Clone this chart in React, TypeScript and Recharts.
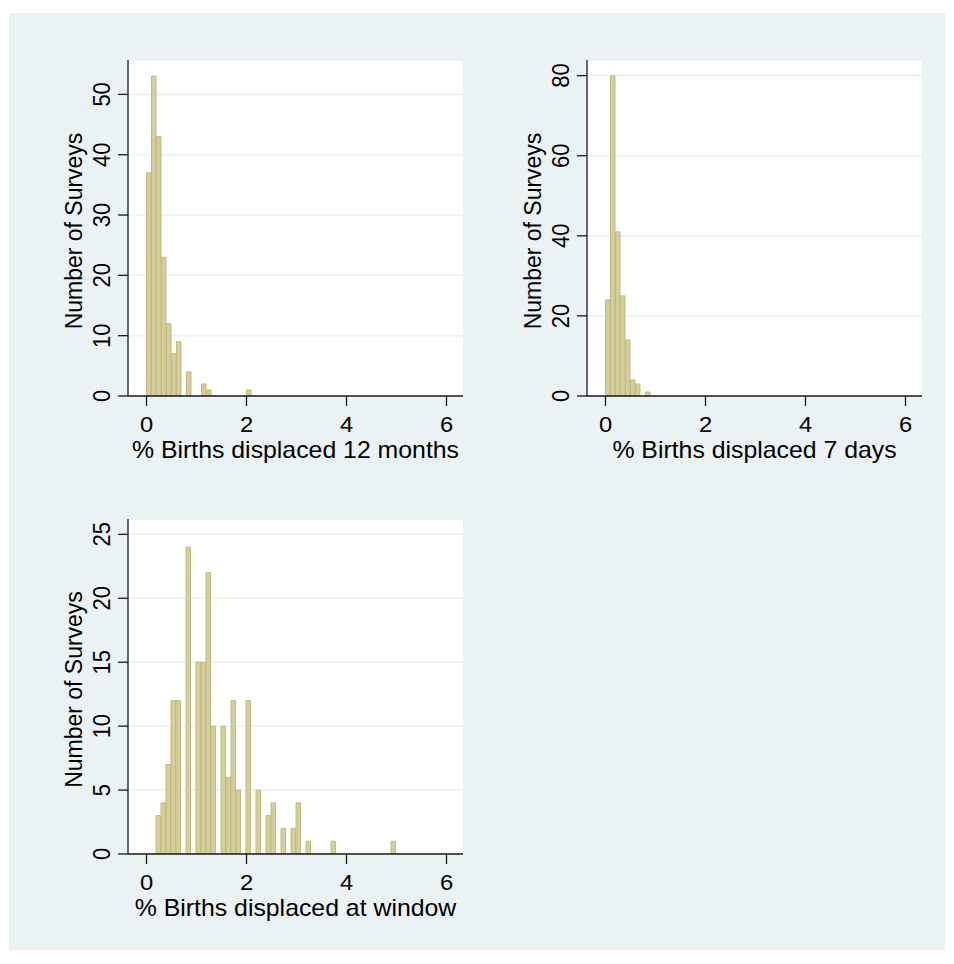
import React from 'react';
import { BarChart, Bar, XAxis, YAxis, CartesianGrid } from 'recharts';

// histogram bins are 0.1 percentage points wide
const BIN_WIDTH = 0.1;

// % births displaced 12 months
const months12Start = 0;
const months12Counts = [37, 53, 43, 23, 12, 7, 9, 0, 4, 0, 0, 2, 1, 0, 0, 0, 0, 0, 0, 0, 1];

// % births displaced 7 days
const days7Start = 0;
const days7Counts = [24, 80, 41, 25, 14, 4, 3, 0, 1];

// % births displaced at window
const windowStart = 0.19;
const windowCounts = [
  3, 4, 7, 12, 12, 0, 24, 0, 15, 15, 22, 10, 0, 10, 6, 12, 5, 0, 12, 0,
  5, 0, 3, 4, 0, 2, 0, 2, 4, 0, 1, 0, 0, 0, 0, 1, 0, 0, 0, 0,
  0, 0, 0, 0, 0, 0, 0, 1,
];

const xTicks = [0, 2, 4, 6];
const yTicks12m = [0, 10, 20, 30, 40, 50];
const yTicks7d = [0, 20, 40, 60, 80];
const yTicksWin = [0, 5, 10, 15, 20, 25];

const X_DOMAIN: [number, number] = [-0.37, 6.33];
const FONT = '"Liberation Sans", Arial, Helvetica, sans-serif';
const AXIS = { stroke: '#1a1a1a', strokeWidth: 1.3 };

const toBins = (start: number, counts: number[]) =>
  counts.map((n, i) => ({ x: start + BIN_WIDTH * (i + 0.5), n }));

function XTick({ x, y, payload }: any) {
  return (
    <text transform={`translate(${x},${y + 24}) scale(1.08,1)`} textAnchor="middle"
      fontSize={22} fontFamily={FONT} fill="#000">
      {payload.value}
    </text>
  );
}

function YTick({ x, y, payload }: any) {
  return (
    <text transform={`translate(${x - 6},${y}) scale(1.08,1) rotate(-90)`} textAnchor="middle"
      fontSize={22} fontFamily={FONT} fill="#000">
      {payload.value}
    </text>
  );
}

function XTitle({ viewBox, value }: any) {
  if (!viewBox) return null;
  const cx = viewBox.x + viewBox.width / 2;
  return (
    <text transform={`translate(${cx},${viewBox.y + 62}) scale(1.08,1)`} textAnchor="middle"
      fontSize={23} fontFamily={FONT} fill="#000">
      {value}
    </text>
  );
}

function YTitle({ viewBox, value }: any) {
  if (!viewBox) return null;
  const cy = viewBox.y + viewBox.height / 2 + 3;
  return (
    <text transform={`translate(${viewBox.x + 71.5},${cy}) scale(1.08,1) rotate(-90)`} textAnchor="middle"
      fontSize={23} fontFamily={FONT} fill="#000">
      {value}
    </text>
  );
}

interface PanelProps {
  left: number; top: number; plotH: number;
  data: { x: number; n: number }[];
  yTicks: number[]; yMax: number; title: string;
}

function Panel({ left, top, plotH, data, yTicks, yMax, title }: PanelProps) {
  return (
    <div style={{ position: 'absolute', left, top }}>
      <BarChart width={463} height={plotH + 80} data={data}
        margin={{ top: 10, right: 10, bottom: 0, left: 0 }}>
        <CartesianGrid vertical={false} stroke="#eaf2f3" strokeWidth={1.5} fill="#ffffff" fillOpacity={1} />
        <XAxis dataKey="x" type="number" domain={X_DOMAIN} ticks={xTicks} allowDataOverflow
          height={70} tickSize={10} tick={<XTick />} axisLine={AXIS} tickLine={AXIS}
          label={{ value: title, content: XTitle }} />
        <YAxis type="number" domain={[0, yMax]} ticks={yTicks} allowDataOverflow
          width={118} tickSize={10} tick={<YTick />} axisLine={AXIS} tickLine={AXIS}
          label={{ value: 'Number of Surveys', content: YTitle }} />
        <Bar dataKey="n" barSize={5} fill="#d3ce9c" stroke="#c2bb80" strokeWidth={1}
          isAnimationActive={false} />
      </BarChart>
    </div>
  );
}

export default function App() {
  return (
    <div style={{ position: 'absolute', left: 0, top: 0, width: 954, height: 964, background: '#ffffff' }}>
      <div style={{ position: 'absolute', left: 9, top: 13, width: 936, height: 937, background: '#eaf2f3' }} />
      <Panel left={10} top={50} plotH={336} data={toBins(months12Start, months12Counts)}
        yTicks={yTicks12m} yMax={55.7} title="% Births displaced 12 months" />
      <Panel left={469} top={50} plotH={336} data={toBins(days7Start, days7Counts)}
        yTicks={yTicks7d} yMax={83.9} title="% Births displaced 7 days" />
      <Panel left={10} top={509} plotH={335} data={toBins(windowStart, windowCounts)}
        yTicks={yTicksWin} yMax={26.2} title="% Births displaced at window" />
    </div>
  );
}
